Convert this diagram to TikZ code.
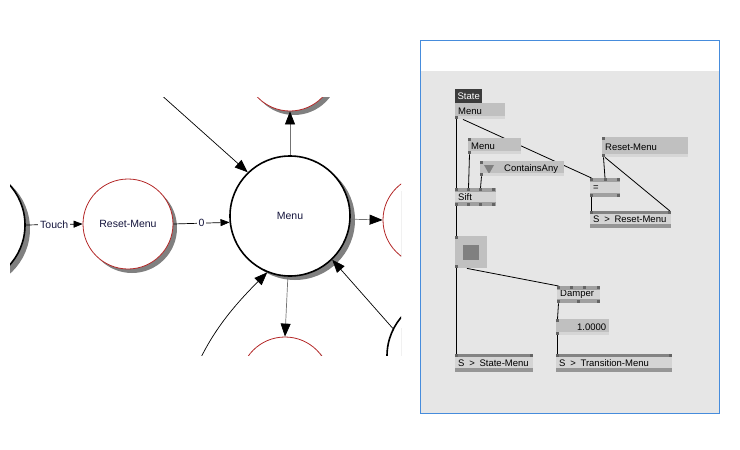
\documentclass[tikz,border=0pt]{standalone}
\usepackage{fontspec}
\newfontfamily\graphfont{Liberation Sans}
\newcommand{\gfont}{\graphfont\fontsize{10.5}{12}\selectfont}
\newcommand{\pfont}{\graphfont\fontsize{9.5}{11}\selectfont}
\usetikzlibrary{arrows.meta,shadows,backgrounds}
\definecolor{statered}{RGB}{180,40,40}
\definecolor{txtnavy}{RGB}{20,20,60}
\definecolor{panelgray}{RGB}{230,230,230}
\definecolor{panelblue}{RGB}{70,140,220}
\definecolor{iofill}{RGB}{192,192,192}
\definecolor{iostrip}{RGB}{214,214,214}
\definecolor{nodefill}{RGB}{212,212,212}
\definecolor{nodestrip}{RGB}{160,160,160}
\definecolor{sendstrip}{RGB}{150,150,150}
\definecolor{pinfill}{RGB}{100,100,100}
\definecolor{labelfill}{RGB}{60,60,60}

\begin{document}
\begin{tikzpicture}[x=1pt,y=-1pt,
    stblack/.style={circle,draw=black,line width=1.6pt,fill=white,minimum size=120pt,inner sep=0pt,
      font=\gfont,text=txtnavy,drop shadow={shadow xshift=5pt,shadow yshift=-4pt,fill=black!50,opacity=1}},
    stred/.style={circle,draw=statered,line width=0.8pt,fill=white,minimum size=90pt,inner sep=0pt,
      font=\gfont,text=txtnavy,drop shadow={shadow xshift=4pt,shadow yshift=-4pt,fill=black!50,opacity=1}},
    arr/.style={-{Triangle[length=13pt,width=10pt,color=black]},line width=0.7pt},
    arrs/.style={-{Triangle[length=9pt,width=7pt]},line width=0.7pt},
    outg/.style={draw=black!55},
    lbl/.style={midway,fill=white,inner sep=2pt,font=\gfont,text=txtnavy},
    iobox/.style={anchor=north west,fill=iofill,inner xsep=3pt,inner ysep=0pt,text width=#1,
      align=left,minimum height=16pt,font=\pfont},
    vnode/.style={anchor=north west,fill=nodefill,inner xsep=3pt,inner ysep=0pt,text width=#1,
      align=left,minimum height=18pt,font=\pfont},
    pin/.style={fill=pinfill},
    link/.style={line width=0.8pt,black}
  ]
  \useasboundingbox (0,0) rectangle (740,450);

  \begin{scope}
    \clip (10,97) rectangle (401,355);
    \node[stblack] (menu) at (290,216) {Menu};
    \node[stred] (reset) at (128,224) {Reset-Menu};
    \node[stblack] (touchsrc) at (-35,225) {};
    \node[stred] (up) at (290,66) {};
    \node[stred] (rgt) at (428,220) {};
    \node[stred] (down) at (285,382) {};
    \node[stblack] (br) at (447,356) {};
    \coordinate (tl) at (140,76);
    \coordinate (bl) at (178,420);

    \draw[arrs] (touchsrc.east) -- (reset.west) node[lbl]{Touch};
    \draw[arrs] (reset.east) -- (menu.186) node[lbl]{0};
    \draw[arr,outg] (menu.north) -- (up.south);
    \draw[arr,outg] (menu.357) -- (rgt.west);
    \draw[arr,outg] (menu.268) -- (down.north);
    \draw[arr] (tl) -- (menu.134);
    \draw[arr] (bl) to[out=75,in=225] (menu.248);
    \draw[arr] (br.153) -- (menu.314);
  \end{scope}

  \node[anchor=north west,fill=labelfill,text=white,minimum width=27pt,minimum height=14pt,
    inner sep=0pt,font=\pfont] (statelbl) at (455,89) {State};
  \node[iobox=44pt] (menuA) at (455,103) {Menu};
  \node[iobox=47pt] (menuB) at (468,138) {Menu};
  \node[iobox=78pt,minimum height=15pt] (cany) at (480,161) {\hspace*{21pt}ContainsAny};
  \node[iobox=80pt,minimum height=20pt] (rmbox) at (602,137) {Reset-Menu};
  \node[vnode=35pt] (sift) at (455,188) {Sift};
  \node[vnode=24pt,minimum height=19pt] (eq) at (590,178) {=};
  \node[vnode=75pt,minimum height=17pt] (sreset) at (590,211) {S \,>\, Reset-Menu};
  \node[anchor=north west,fill=iofill,minimum size=32pt,inner sep=0pt] (tog) at (455,236)
    {\textcolor{black!50}{\rule{16pt}{15pt}}};
  \node[vnode=37pt,minimum height=17pt] (damper) at (557,286) {Damper};
  \node[iobox=47pt,align=right] (valbox) at (556,319) {1.0000};
  \node[vnode=72pt] (sstate) at (455,354) {S \,>\, State-Menu};
  \node[vnode=110pt] (strans) at (556,354) {S \,>\, Transition-Menu};

  \fill[black!50] ([xshift=4pt,yshift=-4pt]cany.north west) -- +(10,0) -- +(5,9) -- cycle;
  \foreach \n in {menuA,menuB,cany,rmbox,valbox}
    \fill[iostrip] ([yshift=3pt]\n.south west) rectangle (\n.south east);
  \foreach \n in {sift,eq,damper} {
    \fill[nodestrip] (\n.north west) rectangle ([yshift=-4pt]\n.north east);
    \fill[nodestrip] ([yshift=4pt]\n.south west) rectangle (\n.south east);
  }
  \foreach \n in {sreset,sstate,strans} {
    \fill[pinfill!80] (\n.north west) rectangle ([yshift=-3pt]\n.north east);
    \fill[sendstrip] ([yshift=4pt]\n.south west) rectangle (\n.south east);
  }
  \foreach \n/\x in {menuB/0,cany/0,rmbox/0,sift/0,sift/12,sift/24,sift/37,eq/0,eq/13.5,eq/27,
      damper/0,damper/13,damper/26,damper/40,tog/0,valbox/0,sreset/0,sreset/78,sstate/0,sstate/75,
      strans/0,strans/113}
    \fill[pin] ([xshift=\x]\n.north west) rectangle +(3,3);
  \foreach \n/\x in {menuA/0,menuB/0,cany/0,rmbox/0,sift/0,sift/12,sift/24,sift/37,eq/0,eq/27,
      damper/0,damper/20,damper/40,tog/0,valbox/0}
    \fill[pin] ([xshift=\x]\n.south west) rectangle +(3,-3);

  \begin{scope}[on background layer]
    \fill[panelgray] (421,71) rectangle (719,413);
    \draw[panelblue] (420.5,40.5) rectangle (719.5,413.5);
    \draw[link] ([xshift=1.5]menuA.south west) -- ([xshift=1.5]sift.north west);
    \draw[link] ([xshift=1.5]menuB.south west) -- ([xshift=13.5]sift.north west);
    \draw[link] ([xshift=1.5]cany.south west) -- ([xshift=25.5]sift.north west);
    \draw[link] ([xshift=8]menuA.south west) -- ([xshift=1.5]eq.north west);
    \draw[link] ([xshift=1.5]rmbox.south west) -- ([xshift=15]eq.north west);
    \draw[link] ([xshift=3]rmbox.south west) -- ([xshift=-1.5]sreset.north east);
    \draw[link] ([xshift=1.5]eq.south west) -- ([xshift=1.5]sreset.north west);
    \draw[link] ([xshift=1.5]sift.south west) -- ([xshift=1.5]tog.north west);
    \draw[link] ([xshift=1.5]tog.south west) -- ([xshift=1.5]sstate.north west);
    \draw[link] ([xshift=12]tog.south west) -- ([xshift=1.5]damper.north west);
    \draw[link] ([xshift=1.5]damper.south west) -- ([xshift=1.5]valbox.north west);
    \draw[link] ([xshift=1.5]valbox.south west) -- ([xshift=1.5]strans.north west);
  \end{scope}
\end{tikzpicture}
\end{document}
